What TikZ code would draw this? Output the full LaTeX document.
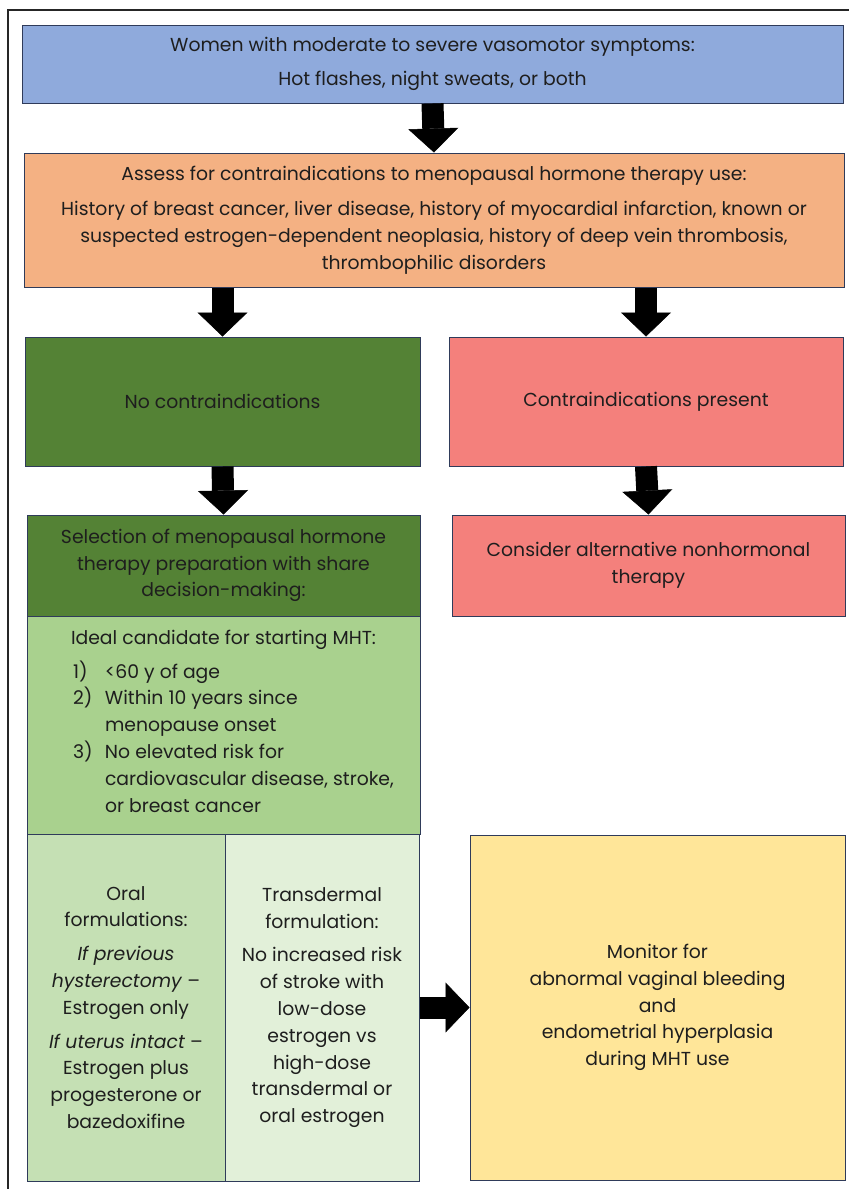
\documentclass[tikz,border=0pt]{standalone}
\usepackage{fontspec}
\setmainfont{Poppins}
\usetikzlibrary{arrows.meta}

\definecolor{boxline}{HTML}{2F3B5A}
\definecolor{txt}{HTML}{1E1E1E}
\definecolor{cblue}{HTML}{8FAADC}
\definecolor{corange}{HTML}{F4B183}
\definecolor{cdgreen}{HTML}{548235}
\definecolor{cred}{HTML}{F4807C}
\definecolor{clgreen}{HTML}{A9D18E}
\definecolor{coral}{HTML}{C5E0B4}
\definecolor{cpale}{HTML}{E2F0D9}
\definecolor{cyellow}{HTML}{FFE699}

\tikzset{
	box/.style={draw=boxline, line width=1pt, align=center, inner sep=0pt, text=txt},
	bigarrow/.style={line width=22pt, -{Triangle[length=24pt,width=50pt,line width=0.5pt]}},
}

\begin{document}
\begin{tikzpicture}[x=1pt, y=-1pt, font=\fontsize{18.8}{26.8}\selectfont]
	\useasboundingbox (0,0) rectangle (849,1189);
	\draw[line width=2pt, black!85] (8,1189) -- (8,10) -- (849,10);

	\node[box, fill=cblue, minimum width=821pt, minimum height=78pt] (women) at (432.5,64)
		{Women with moderate to severe vasomotor symptoms:\\[7pt]Hot flashes, night sweats, or both};
	\node[box, fill=corange, minimum width=820pt, minimum height=134pt] (assess) at (434,220)
		{Assess for contraindications to menopausal hormone therapy use:\\[9pt]
		History of breast cancer, liver disease, history of myocardial infarction, known or\\
		suspected estrogen-dependent neoplasia, history of deep vein thrombosis,\\
		thrombophilic disorders};
	\node[box, fill=cdgreen, minimum width=395pt, minimum height=129pt] (nocontra) at (222.5,401.5)
		{No contraindications};
	\node[box, fill=cred, minimum width=394pt, minimum height=129pt] (contra) at (646,401.5)
		{Contraindications present};
	\node[box, fill=cdgreen, minimum width=393pt, minimum height=101pt] (select) at (223.5,565.5)
		{Selection of menopausal hormone\\therapy preparation with share\\decision-making:};
	\node[box, fill=cred, minimum width=393pt, minimum height=101pt] (consider) at (648.5,565.5)
		{Consider alternative nonhormonal\\therapy};
	\node[box, fill=clgreen, minimum width=393pt, minimum height=218pt] (ideal) at (223.5,725)
		{Ideal candidate for starting MHT:\\[7pt]
		\makebox[301pt][l]{\begin{tabular}[t]{@{}p{32pt}@{}l@{}}
			1) & <60 y of age\\
			2) & Within 10 years since\\
			   & menopause onset\\
			3) & No elevated risk for\\
			   & cardiovascular disease, stroke,\\
			   & or breast cancer
		\end{tabular}}};
	\node[box, fill=coral, minimum width=198pt, minimum height=347pt] (oral) at (126,1007.5)
		{Oral\\formulations:\\[7pt]
		\textit{If previous}\\\textit{hysterectomy} –\\Estrogen only\\[7pt]
		\textit{If uterus intact} –\\Estrogen plus\\progesterone or\\bazedoxifine};
	\node[box, fill=cpale, minimum width=194pt, minimum height=347pt] (transd) at (322,1007.5)
		{Transdermal\\formulation:\\[7pt]
		No increased risk\\of stroke with\\low-dose\\estrogen vs\\high-dose\\transdermal or\\oral estrogen};
	\node[box, fill=cyellow, minimum width=375pt, minimum height=345pt] (monitor) at (657.5,1007.5)
		{Monitor for\\abnormal vaginal bleeding\\and\\endometrial hyperplasia\\during MHT use};

	\draw[bigarrow] (women.south) -- (assess.north);
	\draw[bigarrow] (assess.south -| nocontra.north) -- (nocontra.north);
	\draw[bigarrow] (assess.south -| contra.north) -- (contra.north);
	\draw[bigarrow] (nocontra.south) -- (select.north);
	\draw[bigarrow] (contra.south) -- (consider.north);
	\draw[bigarrow] (transd.east) -- (monitor.west);
\end{tikzpicture}
\end{document}
